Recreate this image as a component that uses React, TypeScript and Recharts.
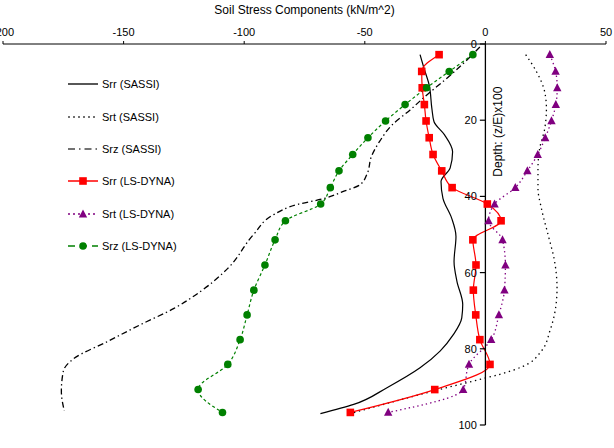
import React from 'react';
import { ComposedChart, Line, XAxis, YAxis, ReferenceLine, Legend } from 'recharts';

const FONT = '"Liberation Sans", Arial, sans-serif';

const stressTicks = [-200, -150, -100, -50, 0, 50];
const depthTicks = [0, 20, 40, 60, 80, 100];

// SASSI results (smooth curves)
const srrSassiDepth = [2.8, 6.5, 10.8, 16.9, 20.4, 23.8, 28.3, 32.5, 36.1, 40.5, 45.7, 50.5, 57.1, 62.3, 68.4, 71.9, 76.3, 80.6, 85.0, 90.2, 94.6, 97.0];
const srrSassi = [-27.1, -25.4, -23.3, -22.2, -21.3, -17.0, -13.6, -14.6, -18.4, -17.6, -14.0, -12.2, -13.0, -11.8, -9.4, -9.8, -13.3, -18.8, -27.1, -40.8, -54.6, -68.4];

const srtSassiDepth = [2.8, 7.3, 12.6, 16.9, 22.2, 27.4, 32.6, 37.9, 43.1, 50.1, 57.1, 64.1, 69.3, 75.4, 80.6, 84.6, 86.7, 87.7, 91.1, 97.0];
const srtSassi = [16.7, 21.2, 24.6, 25.3, 24.6, 22.5, 21.8, 21.8, 23.2, 26.0, 28.7, 29.7, 29.1, 26.7, 23.2, 15.6, 6.0, -0.2, -21.6, -56.0];

const srzSassiDepth = [0.8, 5.2, 9.4, 13.1, 17.3, 21.2, 25.7, 29.6, 34.0, 36.9, 38.7, 40.6, 42.1, 44.8, 50.0, 58.9, 64.9, 69.4, 73.6, 78.0, 82.5, 85.9, 91.1, 96.3];
const srzSassi = [-2.3, -9.3, -16.7, -23.8, -31.2, -38.6, -44.0, -47.3, -49.0, -51.9, -58.9, -67.1, -77.9, -87.8, -96.1, -106.8, -118.0, -129.1, -142.8, -156.4, -170.5, -175.0, -175.8, -174.6];

// LS-DYNA results (sampled depths)
const dynaDepth = [2.8, 7.2, 11.5, 15.9, 20.2, 24.6, 29.0, 33.3, 37.7, 42.0, 46.4, 51.4, 58.0, 64.6, 71.1, 77.6, 84.1, 90.7, 96.7];
const srrDyna = [-19.2, -26.4, -26.2, -25.3, -24.6, -23.3, -21.7, -18.1, -13.8, 0.8, 6.5, -5.2, -3.9, -5.0, -4.0, -2.3, 1.9, -21.0, -56.0];
const srtDyna = [26.7, 29.1, 29.8, 29.2, 27.4, 24.8, 21.7, 17.4, 12.4, 3.8, 1.3, 7.1, 8.3, 7.9, 5.6, 2.4, -6.8, -9.2, -40.3];
const srzDyna = [-5.2, -15.0, -24.4, -33.3, -41.4, -48.7, -55.0, -60.7, -64.3, -68.3, -82.9, -87.2, -91.4, -96.0, -98.8, -101.7, -106.8, -119.1, -109.0];

const toRows = (depths: number[], values: number[]) => depths.map((d, i) => ({ d, x: values[i] }));

const RED = '#FF0000';
const PURPLE = '#800080';
const GREEN = '#008000';

type Marker = 'none' | 'square' | 'triangle' | 'circle';

const drawMarker = (kind: Marker, cx: number, cy: number, color: string, key?: string | number) => {
  if (kind === 'square') return <rect key={key} x={cx - 3.8} y={cy - 3.8} width={7.6} height={7.6} fill={color} />;
  if (kind === 'triangle') return <path key={key} d={`M${cx},${cy - 4.6}L${cx + 4.2},${cy + 3.4}L${cx - 4.2},${cy + 3.4}Z`} fill={color} />;
  if (kind === 'circle') return <circle key={key} cx={cx} cy={cy} r={3.8} fill={color} />;
  return <g key={key} />;
};

const markerDot = (kind: Marker, color: string) => (props: any) => {
  const { cx, cy, index } = props;
  if (cx == null || cy == null) return <g key={index} />;
  return drawMarker(kind, cx, cy, color, index);
};

const series = [
  { name: 'Srr (SASSI)', rows: toRows(srrSassiDepth, srrSassi), color: '#000', dash: undefined as string | undefined, marker: 'none' as Marker, width: 1.2 },
  { name: 'Srt (SASSI)', rows: toRows(srtSassiDepth, srtSassi), color: '#000', dash: '1.4 3.6', marker: 'none' as Marker, width: 1.3 },
  { name: 'Srz (SASSI)', rows: toRows(srzSassiDepth, srzSassi), color: '#000', dash: '6 3 1.4 3', marker: 'none' as Marker, width: 1.3 },
  { name: 'Srr (LS-DYNA)', rows: toRows(dynaDepth, srrDyna), color: RED, dash: undefined, marker: 'square' as Marker, width: 1.2 },
  { name: 'Srt (LS-DYNA)', rows: toRows(dynaDepth, srtDyna), color: PURPLE, dash: '1.4 3', marker: 'triangle' as Marker, width: 1.3 },
  { name: 'Srz (LS-DYNA)', rows: toRows(dynaDepth, srzDyna), color: GREEN, dash: '3 2.5', marker: 'circle' as Marker, width: 1.2 },
];

const legendDash: Record<string, string | undefined> = {
  'Srr (SASSI)': undefined,
  'Srt (SASSI)': '2 3',
  'Srz (SASSI)': '7 4 1.5 4',
  'Srr (LS-DYNA)': undefined,
  'Srt (LS-DYNA)': '2 3',
  'Srz (LS-DYNA)': '7 5',
};

const LegendBox = () => (
  <div style={{ fontFamily: FONT, fontSize: 11, color: '#000' }}>
    {series.map((s) => (
      <div key={s.name} style={{ display: 'flex', alignItems: 'center', height: 32.4 }}>
        <svg width={34} height={12} style={{ overflow: 'visible' }}>
          <line x1={0} y1={6} x2={30} y2={6} stroke={s.color === '#000' ? '#444' : s.color} strokeWidth={s.name === 'Srr (SASSI)' ? 1.8 : 1.5} strokeDasharray={legendDash[s.name]} />
          {drawMarker(s.marker, 15, 6, s.color)}
        </svg>
        <span style={{ whiteSpace: 'nowrap' }}>{s.name}</span>
      </div>
    ))}
  </div>
);

const DepthTitle = (props: any) => {
  const vb = props.viewBox || {};
  const x = vb.x + 13;
  const y = vb.y + vb.height / 2;
  return (
    <text x={x} y={y} transform={`rotate(-90, ${x}, ${y})`} textAnchor="middle" dominantBaseline="central" fontFamily={FONT} fontSize={12} fill="#000">
      Depth: (z/E)x100
    </text>
  );
};

export default function App() {
  return (
    <div style={{ position: 'absolute', left: 0, top: 0, width: 614, height: 448, background: '#fff' }}>
      <ComposedChart width={614} height={448} layout="vertical" margin={{ top: 0, right: 8, bottom: 23, left: 3 }}>
        <XAxis
          type="number"
          orientation="top"
          domain={[-200, 50]}
          ticks={stressTicks}
          interval={0}
          allowDataOverflow
          height={44}
          tickSize={3}
          tickMargin={5}
          stroke="#000"
          tick={{ fill: '#000', fontSize: 11, fontFamily: FONT }}
          label={{ value: 'Soil Stress Components (kN/m^2)', position: 'insideTop', offset: 5, fill: '#000', fontSize: 12, fontFamily: FONT }}
        />
        <YAxis type="number" dataKey="d" domain={[0, 100]} allowDataOverflow hide />
        <Legend layout="vertical" align="center" verticalAlign="middle" content={<LegendBox />} wrapperStyle={{ left: 68, top: 68, width: 160, height: 200 }} />

        {series.map((s) => (
          <Line
            key={s.name}
            name={s.name}
            data={s.rows}
            dataKey="x"
            type="monotone"
            stroke={s.color}
            strokeWidth={s.width}
            strokeDasharray={s.dash}
            dot={s.marker === 'none' ? false : markerDot(s.marker, s.color)}
            activeDot={false}
            isAnimationActive={false}
          />
        ))}

        <ReferenceLine x={0} stroke="#000" strokeWidth={1.3} />
        {depthTicks.map((t) => (
          <ReferenceLine
            key={t}
            segment={[{ x: -2.3, y: t }, { x: 0, y: t }]}
            stroke="#000"
            strokeWidth={1.2}
            label={{ value: String(t), position: 'left', offset: 3, fill: '#000', fontSize: 11, fontFamily: FONT }}
          />
        ))}
        <ReferenceLine segment={[{ x: 0, y: 0 }, { x: 0, y: 46 }]} stroke="none" label={<DepthTitle />} />
      </ComposedChart>
    </div>
  );
}
